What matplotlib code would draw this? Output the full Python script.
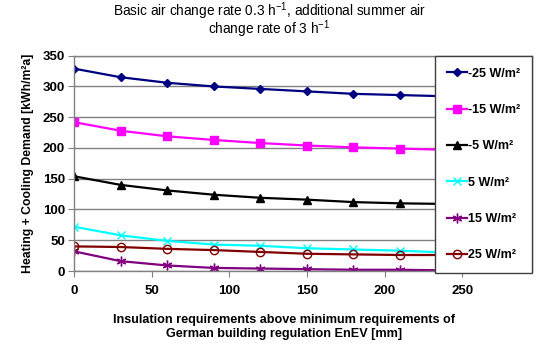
import numpy as np
import matplotlib
matplotlib.use("Agg")
import matplotlib.pyplot as plt

plt.rcParams['font.family'] = ['Liberation Sans', 'DejaVu Sans']

# Insulation thickness above EnEV minimum [mm]
daemmung = [0, 30, 60, 90, 120, 150, 180, 210, 240]

# Heating + cooling demand [kWh/m²a] per internal load
serien = {
    "-25 W/m²": [329, 315, 306, 300, 296, 292, 288, 286, 284],
    "-15 W/m²": [242, 228, 219, 213, 208, 204, 201, 199, 197],
    "-5 W/m²": [154, 140, 131, 124, 119, 116, 112, 110, 109],
    "5 W/m²": [72, 58, 49, 43, 41, 37, 35, 33, 30],
    "15 W/m²": [32, 16, 9, 5, 4, 3, 2, 2, 1],
    "25 W/m²": [40, 39, 36, 34, 31, 28, 27, 26, 26],
}

farben = ["#000080", "#FF00FF", "#000000", "#00FFFF", "#800080", "#800000"]
marker = ["D", "s", "^", "x", (6, 2, 0), "o"]
msize = [4.5, 6, 6, 6, 7, 6]

fig = plt.figure(figsize=(5.5, 3.48), dpi=100)
ax = fig.add_axes([74 / 550, 1 - 271 / 348, 458 / 550, 215.3 / 348])

for (nome, valores), cor, m, ms in zip(serien.items(), farben, marker, msize):
    if m == "o":
        ax.plot(daemmung, valores, color=cor, marker=m, markersize=ms,
                markerfacecolor="none", markeredgewidth=1.0, lw=1.6, label=nome)
    else:
        ax.plot(daemmung, valores, color=cor, marker=m, markersize=ms,
                markeredgewidth=1.0, lw=1.6, label=nome)

ax.set_xlim(0, 295)
ax.set_ylim(0, 350)
ax.set_xticks([0, 50, 100, 150, 200, 250])
ax.set_yticks(np.arange(0, 351, 50))
ax.yaxis.grid(True, color="#808080", lw=1.0)
ax.set_axisbelow(True)
for s in ax.spines.values():
    s.set_color("#808080")
    s.set_linewidth(1.0)
ax.tick_params(direction="out", length=4, color="#808080", labelsize=9.5, pad=2.5)
ax.tick_params(axis="x", pad=6)
for lab in ax.get_xticklabels() + ax.get_yticklabels():
    lab.set_fontweight("bold")

ax.set_ylabel("Heating + Cooling Demand [kWh/m²a]", fontsize=8.8,
              fontweight="bold", labelpad=6)

leg = ax.legend(loc="upper right", bbox_to_anchor=(1.0, 1.0), borderaxespad=0,
                fancybox=False, edgecolor="#404040", framealpha=1,
                prop={"size": 9, "weight": "bold"}, labelspacing=1.95,
                handlelength=1.6, handletextpad=0.1, borderpad=0.95)
leg.get_frame().set_linewidth(1.0)

# title, two lines centred, small superscripts
fig.text(0.49, 1 - 20 / 348,
         "Basic air change rate 0.3 h$^{\\mathregular{-1}}$, additional summer air\n"
         "change rate of 3 h$^{\\mathregular{-1}}$",
         ha="center", va="center", fontsize=9.8, linespacing=0.8)

fig.text(284 / 550, 1 - 327 / 348, "Insulation requirements above minimum requirements of\nGerman building regulation EnEV [mm]",
         ha="center", va="center", fontsize=9.1, fontweight="bold", linespacing=1.25)

fig.savefig("out.png", dpi=100)
